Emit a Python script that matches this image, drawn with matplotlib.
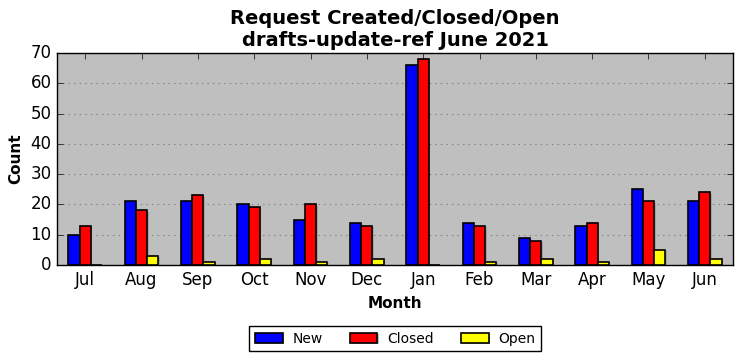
import matplotlib
matplotlib.use('Agg')
import matplotlib.pyplot as plt
import matplotlib.patheffects as pe
import numpy as np

plt.style.use('classic')

# Données
months = ['Jul', 'Aug', 'Sep', 'Oct', 'Nov', 'Dec', 'Jan', 'Feb', 'Mar', 'Apr', 'May', 'Jun']
new = [10, 21, 21, 20, 15, 14, 66, 14, 9, 13, 25, 21]
closed = [13, 18, 23, 19, 20, 13, 68, 13, 8, 14, 21, 24]
opened = [0, 3, 1, 2, 1, 2, 0, 1, 2, 1, 5, 2]

fig = plt.figure(figsize=(7.42, 3.61), dpi=100, facecolor='white')
ax = fig.add_axes([57 / 742, 1 - 265 / 361, 676 / 742, 212 / 361])
ax.set_facecolor('#bfbfbf')

x = np.arange(len(months))
w = 0.2
shadow = [pe.SimplePatchShadow(offset=(1, -1), shadow_rgbFace='#909090', alpha=0.6), pe.Normal()]
series = [(new, 'blue', 'New', -w), (closed, 'red', 'Closed', 0), (opened, 'yellow', 'Open', w)]
for vals, col, lab, off in series:
    bars = ax.bar(x + off, vals, w, color=col, edgecolor='black', linewidth=1.2,
                  align='center', label=lab, zorder=3)
    for b in bars:
        b.set_path_effects(shadow)

ax.set_xlim(-0.5, len(months) - 0.5)
ax.set_ylim(0, 70)
ax.set_yticks(range(0, 71, 10))
ax.set_xticks(x)
ax.set_xticklabels(months, fontsize=12)
ax.tick_params(axis='y', labelsize=12)
ax.yaxis.grid(True, linestyle=':', color='#808080', linewidth=0.8, zorder=0)
ax.xaxis.grid(False)
ax.set_axisbelow(True)

ax.set_xlabel('Month', fontsize=11, fontweight='bold')
ax.set_ylabel('Count', fontsize=11, fontweight='bold')
ax.set_title('Request Created/Closed/Open\ndrafts-update-ref June 2021', fontsize=14, fontweight='bold')

leg = ax.legend(loc='upper center', bbox_to_anchor=(0.5, -0.255), ncol=3, fontsize=10,
                frameon=True, fancybox=False, handlelength=2.0, columnspacing=1.95,
                handletextpad=0.7, borderpad=0.4)
leg.get_frame().set_edgecolor('black')

fig.savefig('out.png', dpi=100, facecolor='white')
